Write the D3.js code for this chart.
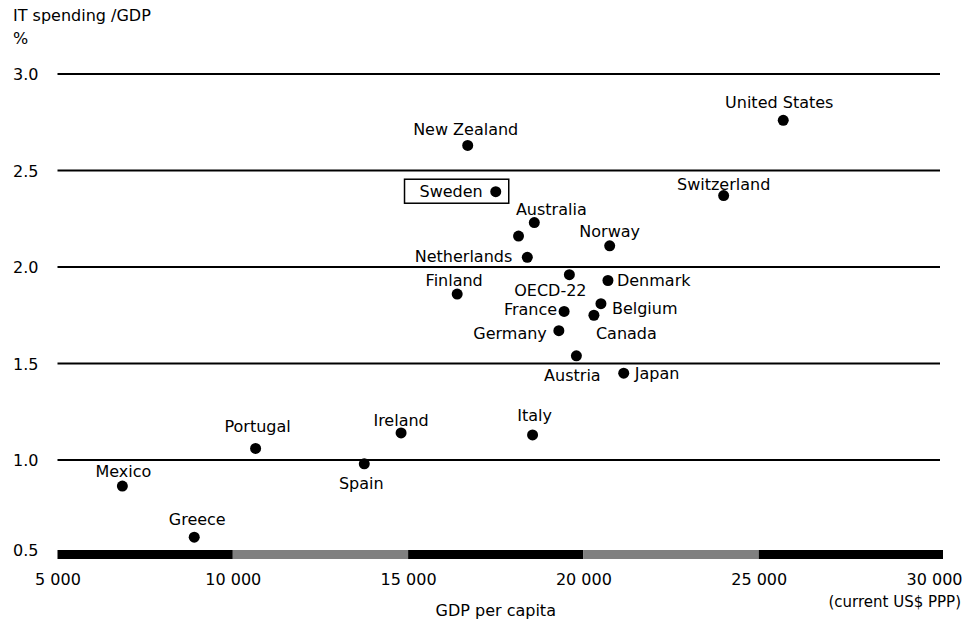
<!DOCTYPE html>
<html>
<head>
<meta charset="utf-8">
<script src="https://cdn.jsdelivr.net/npm/d3@7"></script>
<style>
  html, body { margin: 0; padding: 0; background: #fff; }
  svg { display: block; font-family: "DejaVu Sans", sans-serif; }
</style>
</head>
<body>
<svg id="chart" width="966" height="625"></svg>
<script>
// --- data ---
const countries = [
  "United States", "Switzerland", "New Zealand", "Sweden", "Australia", "",
  "Norway", "Netherlands", "OECD-22", "Denmark", "Finland", "Belgium",
  "France", "Canada", "Germany", "Austria", "Japan", "Italy", "Ireland",
  "Portugal", "Spain", "Mexico", "Greece"
];
const gdpPerCapita = [
  25700, 24000, 16700, 17500, 18600, 18150,
  20750, 18400, 19600, 20700, 16400, 20500,
  19450, 20300, 19300, 19800, 21150, 18550, 14800,
  10650, 13750, 6850, 8900
];
const itSpending = [
  2.76, 2.37, 2.63, 2.39, 2.23, 2.16,
  2.11, 2.05, 1.96, 1.93, 1.86, 1.81,
  1.77, 1.75, 1.67, 1.54, 1.45, 1.13, 1.14,
  1.06, 0.98, 0.865, 0.60
];
const xTicks = [5000, 10000, 15000, 20000, 25000, 30000];
const xTickLabels = ["5 000", "10 000", "15 000", "20 000", "25 000", "30 000"];
const yTicks = [0.5, 1.0, 1.5, 2.0, 2.5, 3.0];
const highlighted = "Sweden";

// label placement: [anchor, dx, dy] relative to the dot
const labelPos = {
  "United States": ["middle", -4, -12],
  "Switzerland": ["middle", 0, -6],
  "New Zealand": ["middle", -2, -10],
  "Sweden": ["end", -13, 5],
  "Australia": ["middle", 17, -8],
  "Norway": ["middle", 0, -9],
  "Netherlands": ["end", -15, 5],
  "OECD-22": ["middle", -19, 21],
  "Denmark": ["start", 9, 5],
  "Finland": ["middle", -3, -8],
  "Belgium": ["start", 11, 10],
  "France": ["end", -7, 4],
  "Canada": ["start", 2, 24],
  "Germany": ["end", -12, 8],
  "Austria": ["middle", -4, 25],
  "Japan": ["start", 11, 6],
  "Italy": ["middle", 2, -14],
  "Ireland": ["middle", 0, -7],
  "Portugal": ["middle", 2, -16],
  "Spain": ["middle", -3, 25],
  "Mexico": ["middle", 1, -9],
  "Greece": ["middle", 3, -12]
};

const points = countries.map((c, i) => ({ name: c, x: gdpPerCapita[i], y: itSpending[i] }));

const svg = d3.select("#chart");
const FS = 16;

const x = d3.scaleLinear().domain([5000, 30000]).range([57.5, 934]);
const y = d3.scaleLinear().domain([0.5, 3.0]).range([556.5, 74]);
const gridRight = 940;

// y title
svg.append("text").attr("x", 13).attr("y", 21).attr("font-size", FS).text("IT spending /GDP");
svg.append("text").attr("x", 13).attr("y", 44).attr("font-size", FS).text("%");

// gridlines
svg.append("g")
  .selectAll("line")
  .data(yTicks.filter((d) => d > 0.5))
  .join("line")
  .attr("x1", x(5000))
  .attr("x2", gridRight)
  .attr("y1", (d) => y(d))
  .attr("y2", (d) => y(d))
  .attr("stroke", "#000")
  .attr("stroke-width", 2);

// y tick labels
const yAxis = svg.append("g")
  .call(d3.axisLeft(y).tickValues(yTicks).tickFormat(d3.format(".1f")).tickSize(0));
yAxis.select(".domain").remove();
yAxis.selectAll("text")
  .attr("x", 13)
  .attr("y", (d) => (d === 0.5 ? -7 : 0))
  .attr("text-anchor", "start")
  .attr("dy", "0.35em")
  .attr("font-size", FS)
  .attr("font-family", "DejaVu Sans, sans-serif")
  .attr("fill", "#000");

// bottom banded bar
const bands = d3.pairs(xTicks);
svg.append("g")
  .selectAll("rect")
  .data(bands)
  .join("rect")
  .attr("x", (d) => x(d[0]))
  .attr("width", (d, i) => (i === bands.length - 1 ? 943 : x(d[1])) - x(d[0]))
  .attr("y", y(0.5) - 6.5)
  .attr("height", 9)
  .attr("fill", (d, i) => (i % 2 === 0 ? "#000" : "#808080"));

// x tick labels
const xAxis = svg.append("g")
  .attr("transform", `translate(0,${y(0.5)})`)
  .call(d3.axisBottom(x).tickValues(xTicks).tickFormat((d, i) => xTickLabels[i]).tickSize(0));
xAxis.select(".domain").remove();
xAxis.selectAll("text")
  .attr("y", 28.5)
  .attr("dy", 0)
  .attr("font-size", FS)
  .attr("font-family", "DejaVu Sans, sans-serif")
  .attr("fill", "#000");

svg.append("text")
  .attr("x", (x(5000) + x(30000)) / 2)
  .attr("y", 616)
  .attr("text-anchor", "middle")
  .attr("font-size", FS)
  .text("GDP per capita");
svg.append("text")
  .attr("x", 961)
  .attr("y", 607)
  .attr("text-anchor", "end")
  .attr("font-size", 15)
  .text("(current US$ PPP)");

// dots
svg.append("g")
  .selectAll("circle")
  .data(points)
  .join("circle")
  .attr("cx", (d) => x(d.x))
  .attr("cy", (d) => y(d.y))
  .attr("r", 5.5)
  .attr("fill", "#000");

// labels
const labels = svg.append("g")
  .selectAll("text")
  .data(points.filter((d) => d.name))
  .join("text")
  .attr("x", (d) => x(d.x) + labelPos[d.name][1])
  .attr("y", (d) => y(d.y) + labelPos[d.name][2])
  .attr("text-anchor", (d) => labelPos[d.name][0])
  .attr("font-size", FS)
  .attr("fill", "#000")
  .text((d) => d.name);

// box round Sweden
const sw = points.find((d) => d.name === highlighted);
const swLabel = labels.filter((d) => d.name === highlighted).node().getBBox();
svg.append("rect")
  .attr("x", swLabel.x - 15)
  .attr("y", y(sw.y) - 12.5)
  .attr("width", x(sw.x) + 13 - (swLabel.x - 15))
  .attr("height", 24)
  .attr("fill", "none")
  .attr("stroke", "#000")
  .attr("stroke-width", 1.5);
</script>
</body>
</html>
